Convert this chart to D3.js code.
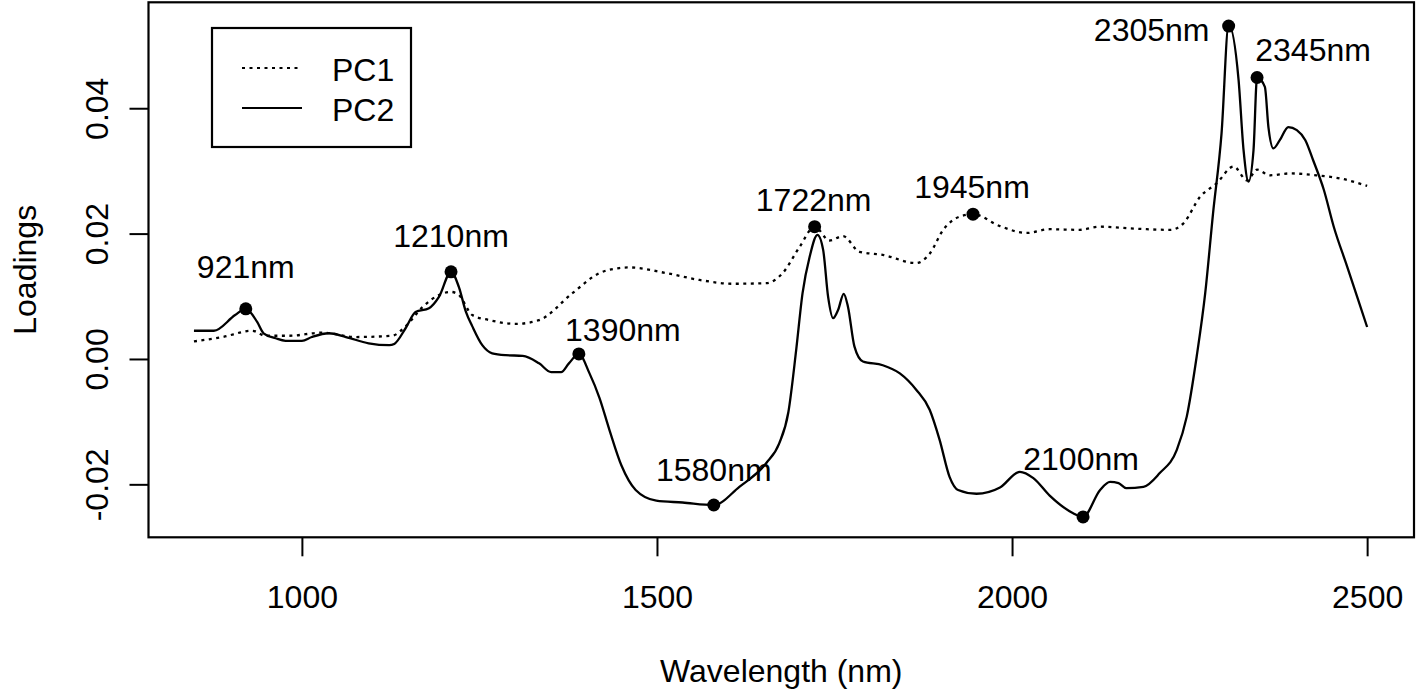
<!DOCTYPE html>
<html>
<head>
<meta charset="utf-8">
<script src="https://cdn.jsdelivr.net/npm/d3@7"></script>
<style>
  html, body { margin: 0; padding: 0; background: #fff; }
  svg { display: block; }
  text { font-family: "Liberation Sans", Arial, sans-serif; fill: #000; }
</style>
</head>
<body>
<svg id="chart" width="1417" height="695"></svg>
<script>
// ---------------- data ----------------
const xTicks = [1000, 1500, 2000, 2500];
const yTicks = [-0.02, 0.00, 0.02, 0.04];
const yTickLabels = ["-0.02", "0.00", "0.02", "0.04"];

const pc1Wavelength = [848, 888, 930, 949, 982, 1029, 1076, 1127, 1146, 1170, 1193, 1210, 1221, 1240, 1264, 1301, 1334, 1381, 1419, 1447, 1461, 1513, 1560, 1607, 1654, 1677, 1701, 1722, 1743, 1762, 1785, 1818, 1865, 1884, 1903, 1926, 1945, 1983, 2020, 2053, 2095, 2124, 2171, 2223, 2241, 2265, 2288, 2312, 2331, 2345, 2363, 2391, 2429, 2462, 2500];
const pc1Values = [0.0028, 0.0035, 0.0045, 0.0037, 0.0037, 0.0042, 0.0035, 0.0037, 0.0052, 0.0083, 0.0102, 0.0107, 0.0102, 0.0070, 0.0062, 0.0056, 0.0062, 0.0105, 0.0137, 0.0145, 0.0146, 0.0137, 0.0126, 0.0120, 0.0121, 0.0137, 0.0179, 0.0211, 0.0189, 0.0196, 0.0171, 0.0166, 0.0153, 0.0168, 0.0206, 0.0227, 0.0231, 0.0212, 0.0201, 0.0207, 0.0206, 0.0211, 0.0208, 0.0206, 0.0216, 0.0259, 0.0280, 0.0307, 0.0285, 0.0302, 0.0293, 0.0296, 0.0293, 0.0288, 0.0276];

const pc2Wavelength = [848, 876, 906, 921, 937, 946, 963, 977, 1000, 1014, 1038, 1062, 1094, 1123, 1130, 1146, 1160, 1179, 1193, 1210, 1221, 1231, 1240, 1254, 1268, 1287, 1311, 1334, 1351, 1365, 1376, 1390, 1405, 1419, 1433, 1450, 1470, 1499, 1536, 1580, 1616, 1654, 1672, 1685, 1696, 1705, 1715, 1726, 1734, 1741, 1748, 1755, 1763, 1769, 1778, 1790, 1818, 1842, 1865, 1884, 1898, 1912, 1924, 1950, 1983, 2011, 2030, 2053, 2086, 2100, 2124, 2138, 2150, 2161, 2185, 2208, 2232, 2246, 2260, 2272, 2283, 2295, 2305, 2319, 2326, 2333, 2340, 2345, 2356, 2361, 2368, 2377, 2389, 2401, 2413, 2424, 2439, 2453, 2472, 2486, 2500];
const pc2Values = [0.0045, 0.0045, 0.0070, 0.0080, 0.0059, 0.0041, 0.0033, 0.0029, 0.0029, 0.0035, 0.0041, 0.0035, 0.0025, 0.0022, 0.0024, 0.0049, 0.0075, 0.0081, 0.0099, 0.0139, 0.0115, 0.0075, 0.0052, 0.0022, 0.0009, 0.0006, 0.0005, -0.0007, -0.0021, -0.0021, -0.0007, 0.0008, -0.0023, -0.0062, -0.0113, -0.0170, -0.0209, -0.0226, -0.0229, -0.0233, -0.0204, -0.0166, -0.0135, -0.0085, 0.0014, 0.0105, 0.0163, 0.0198, 0.0174, 0.0099, 0.0065, 0.0078, 0.0104, 0.0083, 0.0020, -0.0004, -0.0010, -0.0023, -0.0049, -0.0081, -0.0129, -0.0188, -0.0209, -0.0215, -0.0205, -0.0180, -0.0190, -0.0218, -0.0246, -0.0252, -0.0209, -0.0196, -0.0198, -0.0206, -0.0204, -0.0182, -0.0145, -0.0092, 0.0004, 0.0105, 0.0232, 0.0360, 0.0533, 0.0445, 0.0333, 0.0283, 0.0333, 0.0449, 0.0434, 0.0370, 0.0336, 0.0349, 0.0370, 0.0365, 0.0349, 0.0317, 0.0270, 0.0211, 0.0147, 0.0099, 0.0051];

const peakLabels = ["921nm", "1210nm", "1390nm", "1580nm", "1722nm", "1945nm", "2100nm", "2305nm", "2345nm"];
const peakWavelength = [921, 1210, 1390, 1580, 1722, 1945, 2100, 2305, 2345];
const peakValues = [0.0080, 0.0139, 0.0008, -0.0233, 0.0211, 0.0231, -0.0252, 0.0531, 0.0449];

const seriesNames = ["PC1", "PC2"];

// ---------------- layout / style ----------------
const W = 1417, H = 695;
const plot = { left: 148.5, right: 1414, top: 2.3, bottom: 537.3 };
const FS = 32;
// label offsets in pixels relative to the marked point (centre of text)
const labelOffsets = [[0, -42], [0, -36], [44, -24], [0, -35], [-1, -27], [-1, -28], [-2, -58], [-77, 3], [56, -28]];

const svg = d3.select("#chart");

const x = d3.scaleLinear().domain([784, 2566]).range([plot.left, plot.right]);
const y = d3.scaleLinear().domain([-0.02845, 0.0569]).range([plot.bottom, plot.top]);

const pc1 = pc1Wavelength.map((w, i) => [w, pc1Values[i]]);
const pc2 = pc2Wavelength.map((w, i) => [w, pc2Values[i]]);

const line = d3.line().x(d => x(d[0])).y(d => y(d[1])).curve(d3.curveMonotoneX);

// curves
svg.append("path").datum(pc1).attr("d", line)
  .attr("fill", "none").attr("stroke", "#000").attr("stroke-width", 2.3)
  .attr("stroke-dasharray", "3,4.5");
svg.append("path").datum(pc2).attr("d", line)
  .attr("fill", "none").attr("stroke", "#000").attr("stroke-width", 2.3);

// peak markers
svg.selectAll("circle.peak").data(peakWavelength).enter().append("circle")
  .attr("class", "peak")
  .attr("cx", d => x(d))
  .attr("cy", (d, i) => y(peakValues[i]))
  .attr("r", 6.5).attr("fill", "#000");

svg.selectAll("text.peak").data(peakLabels).enter().append("text")
  .attr("class", "peak")
  .attr("x", (d, i) => x(peakWavelength[i]) + labelOffsets[i][0])
  .attr("y", (d, i) => y(peakValues[i]) + labelOffsets[i][1] + FS * 0.358)
  .attr("text-anchor", "middle")
  .attr("font-size", FS)
  .text(d => d);

// box
svg.append("rect")
  .attr("x", plot.left).attr("y", plot.top)
  .attr("width", plot.right - plot.left).attr("height", plot.bottom - plot.top)
  .attr("fill", "none").attr("stroke", "#000").attr("stroke-width", 2.2);

// x axis
const xAxis = d3.axisBottom(x).tickValues(xTicks).tickSize(19).tickSizeOuter(0).tickFormat(d3.format("d"));
const gx = svg.append("g").attr("transform", `translate(0,${plot.bottom})`).call(xAxis);
gx.select(".domain").remove();
gx.selectAll(".tick line").attr("stroke", "#000").attr("stroke-width", 2);
gx.selectAll(".tick text").attr("font-size", FS).attr("font-family", "Liberation Sans, Arial, sans-serif")
  .attr("fill", "#000").attr("dy", null).attr("y", 71);

// y axis
const yAxis = d3.axisLeft(y).tickValues(yTicks).tickSize(19).tickSizeOuter(0).tickFormat((d, i) => yTickLabels[i]);
const gy = svg.append("g").attr("transform", `translate(${plot.left},0)`).call(yAxis);
gy.select(".domain").remove();
gy.selectAll(".tick line").attr("stroke", "#000").attr("stroke-width", 2);
gy.selectAll(".tick text")
  .attr("font-size", FS).attr("font-family", "Liberation Sans, Arial, sans-serif").attr("fill", "#000")
  .attr("x", null).attr("dy", null)
  .attr("transform", `translate(${108 - plot.left},0) rotate(-90)`)
  .attr("text-anchor", "middle");

// axis titles
svg.append("text").attr("x", (plot.left + plot.right) / 2).attr("y", 682)
  .attr("text-anchor", "middle").attr("font-size", FS).text("Wavelength (nm)");
svg.append("text").attr("transform", `translate(36,${(plot.top + plot.bottom) / 2}) rotate(-90)`)
  .attr("text-anchor", "middle").attr("font-size", FS).text("Loadings");

// legend
const lg = svg.append("g");
lg.append("rect").attr("x", 212).attr("y", 28).attr("width", 199).attr("height", 119)
  .attr("fill", "#fff").attr("stroke", "#000").attr("stroke-width", 2.2);
seriesNames.forEach((name, i) => {
  const ly = 68 + i * 40;
  lg.append("line").attr("x1", 242).attr("x2", 302).attr("y1", ly).attr("y2", ly)
    .attr("stroke", "#000").attr("stroke-width", 2.2)
    .attr("stroke-dasharray", i === 0 ? "3,4.5" : null);
  lg.append("text").attr("x", 332).attr("y", ly + 13).attr("font-size", FS).text(name);
});
</script>
</body>
</html>
